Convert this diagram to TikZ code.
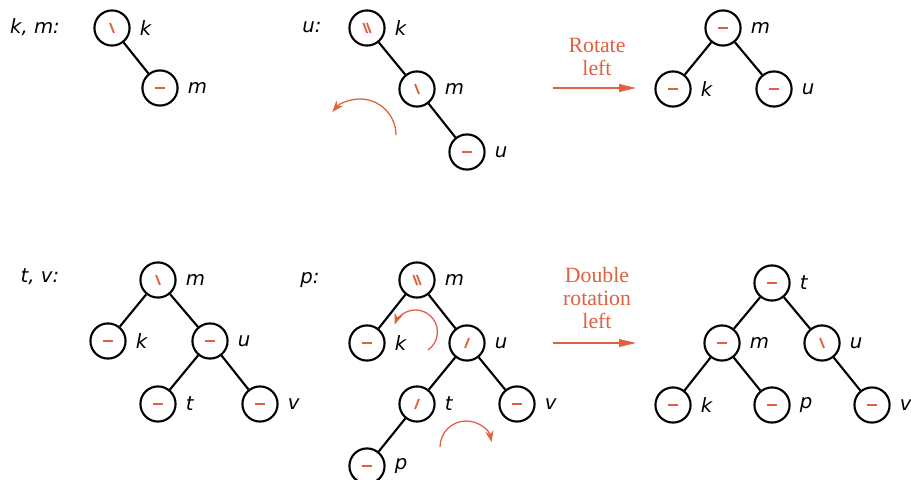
\documentclass[tikz,border=0pt]{standalone}
\usepackage{fontspec}
\newfontfamily\tagfont{DejaVu Sans}
\newfontfamily\sayfont{Liberation Serif}
\usetikzlibrary{arrows.meta}
\definecolor{rot}{RGB}{224,96,64}

\begin{document}
\begin{tikzpicture}[x=0.025cm,y=-0.025cm,
  avl/.style={circle,draw,line width=1.5pt,minimum size=25pt,inner sep=0pt},
  tick/.style={draw=rot,line width=1.3pt,shift={(path picture bounding box.center)}},
  bal/.style={avl,path picture={\draw[tick] (-3.6pt,0) -- (3.6pt,0);}},
  lh/.style={avl,path picture={\draw[tick] (-1.4pt,3.6pt) -- (1.4pt,-3.6pt);}},
  lhh/.style={avl,path picture={\draw[tick] (-2.6pt,3.6pt) -- (0.1pt,-3.6pt) (-0.1pt,3.6pt) -- (2.6pt,-3.6pt);}},
  rh/.style={avl,path picture={\draw[tick] (-1.4pt,-3.6pt) -- (1.4pt,3.6pt);}},
  tag/.style={font=\tagfont\itshape\fontsize{14}{16}\selectfont},
  nm/.style={label={[tag,label distance=3pt]right:#1}},
  edge/.style={line width=1.5pt},
  turn/.style={draw=rot,line width=0.8pt,-{Triangle[length=12pt,width=5.5pt]}},
  swing/.style={draw=rot,line width=0.9pt,-{Stealth[length=8pt,width=6pt]}},
  say/.style={text=rot,align=center,font=\sayfont\fontsize{15.5}{16.5}\selectfont}]
  \useasboundingbox (0,0) rectangle (911,479);

  % Insert k, m
  \node[tag] (t1) at (35,27) {k, m:};
  \node[lh,nm=k] (ak) at (112,28) {};
  \node[bal,nm=m] (am) at (160,88) {};
  \draw[edge] (ak) -- (am);

  % Insert u: right-right case
  \node[tag] (t2) at (312,27) {u:};
  \node[lhh,nm=k] (bk) at (367,28) {};
  \node[lh,nm=m] (bm) at (417,89) {};
  \node[bal,nm=u] (bu) at (467,152) {};
  \draw[edge] (bk) -- (bm) -- (bu);
  \draw[swing] (396,135) arc[start angle=0,end angle=-140,radius=36];

  \node[say] (s1) at (597,57) {Rotate\\left};
  \coordinate (s1a) at (553,88);
  \coordinate (s1b) at (636,88);
  \draw[turn] (s1a) -- (s1b);

  \node[bal,nm=m] (cm) at (723,28) {};
  \node[bal,nm=k] (ck) at (673,89) {};
  \node[bal,nm=u] (cu) at (774,89) {};
  \draw[edge] (ck) -- (cm) -- (cu);

  % Insert t, v
  \node[tag] (t3) at (40,277) {t, v:};
  \node[lh,nm=m] (dm) at (158,280) {};
  \node[bal,nm=k] (dk) at (108,341) {};
  \node[bal,nm=u] (du) at (210,341) {};
  \node[bal,nm=t] (dt) at (158,404) {};
  \node[bal,nm=v] (dv) at (260,404) {};
  \draw[edge] (dk) -- (dm) -- (du) -- (dt);
  \draw[edge] (du) -- (dv);

  % Insert p: right-left case
  \node[tag] (t4) at (310,280) {p:};
  \node[lhh,nm=m] (em) at (417,280) {};
  \node[bal,nm=k] (ek) at (367,343) {};
  \node[rh,nm=u] (eu) at (467,343) {};
  \node[rh,nm=t] (et) at (417,404) {};
  \node[bal,nm=v] (ev) at (517,404) {};
  \node[bal,nm=p] (ep) at (367,466) {};
  \draw[edge] (ek) -- (em) -- (eu) -- (et) -- (ep);
  \draw[edge] (eu) -- (ev);
  \draw[swing] (428,350) arc[start angle=55,end angle=-160,radius=22];
  \draw[swing] (440,447) arc[start angle=180,end angle=349,radius=26];

  \node[say] (s2) at (597,298) {Double\\rotation\\left};
  \coordinate (s2a) at (553,343);
  \coordinate (s2b) at (636,343);
  \draw[turn] (s2a) -- (s2b);

  \node[bal,nm=t] (ft) at (772,283) {};
  \node[bal,nm=m] (fm) at (722,343) {};
  \node[lh,nm=u] (fu) at (822,343) {};
  \node[bal,nm=k] (fk) at (673,405) {};
  \node[bal,nm=p] (fp) at (772,405) {};
  \node[bal,nm=v] (fv) at (872,405) {};
  \draw[edge] (fk) -- (fm) -- (ft) -- (fu) -- (fv);
  \draw[edge] (fm) -- (fp);
\end{tikzpicture}
\end{document}
